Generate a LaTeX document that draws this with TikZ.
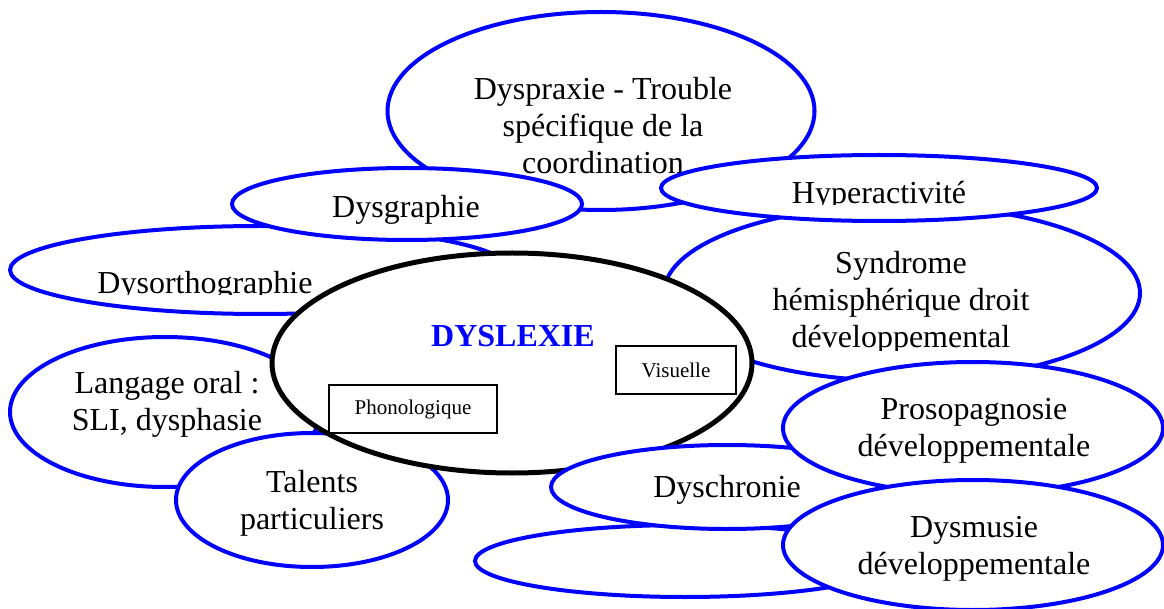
\documentclass[tikz,border=0pt]{standalone}
\usepackage{fontspec}
\setmainfont{Liberation Serif}
\usetikzlibrary{shapes.geometric}
\definecolor{bubbleblue}{RGB}{0,0,255}

\tikzset{
  bubble/.style={ellipse, draw=bubbleblue, line width=4pt, fill=white, inner sep=0pt},
  core/.style={ellipse, draw=black, line width=5pt, fill=white, inner sep=0pt},
  kindbox/.style={draw=black, line width=1.2pt, fill=white, inner sep=0pt,
    minimum height=48pt, font=\fontsize{21}{25}\selectfont},
  word/.style={align=center, inner sep=0pt, font=\fontsize{32}{37}\selectfont}
}

\begin{document}
\begin{tikzpicture}[x=1pt,y=-1pt]
        \useasboundingbox (0,0) rectangle (1164,609);
        % dyspraxie
        \node[bubble, minimum width=427pt, minimum height=198pt] (dyspraxie) at (601,111) {};
        \node[word] (dyspraxietxt) at (603,126) {Dyspraxie - Trouble\\sp\'ecifique de la\\coordination};
        % dysorthographie
        \node[bubble, minimum width=500pt, minimum height=88pt] (dysortho) at (260,270) {};
        \begin{scope}
          \clip (40,240) rectangle (480,295);
          \node[word] (dysorthotxt) at (205,286) {Dysorthographie};
        \end{scope}
        % dysgraphie
        \node[bubble, minimum width=350pt, minimum height=72pt] (dysgraphie) at (407,204) {};
        \node[word] (dysgraphietxt) at (406,210) {Dysgraphie};
        % syndrome
        \node[bubble, minimum width=476pt, minimum height=176pt] (syndrome) at (902,293) {};
        \begin{scope}
          \clip (700,230) rectangle (1100,351);
          \node[word] (syndrometxt) at (901,303) {Syndrome\\h\'emisph\'erique droit\\d\'eveloppemental};
        \end{scope}
        % hyperactivite
        \node[bubble, minimum width=436pt, minimum height=66pt] (hyper) at (879,188) {};
        \begin{scope}
          \clip (700,165) rectangle (1060,205);
          \node[word] (hypertxt) at (879,196) {Hyperactivit\'e};
        \end{scope}
        % langage oral
        \node[bubble, minimum width=310pt, minimum height=150pt] (langage) at (165,412) {};
        \node[word] (langagetxt) at (167,404) {Langage oral :\\SLI, dysphasie};
        % talents
        \node[bubble, minimum width=272pt, minimum height=134pt] (talents) at (312,500) {};
        \node[word] (talentstxt) at (312,503) {Talents\\particuliers};
        % dyslexie
        \node[core, minimum width=480pt, minimum height=220pt] (dyslexie) at (512,363) {};
        \node[word, font=\fontsize{32}{37}\selectfont\bfseries, text=bubbleblue] (dyslexietxt) at (513,336) {DYSLEXIE};
        \node[kindbox, minimum width=168pt] (phono) at (413,409) {Phonologique};
        \node[kindbox, minimum width=120pt] (visuelle) at (676,370) {Visuelle};
        % empty one
        \node[bubble, minimum width=420pt, minimum height=72pt] (vide) at (685,561) {};
        % dyschronie
        \node[bubble, minimum width=352pt, minimum height=84pt] (dyschronie) at (727,487) {};
        \node[word] (dyschronietxt) at (727,490) {Dyschronie};
        % prosopagnosie
        \node[bubble, minimum width=380pt, minimum height=132pt] (prosop) at (973,428) {};
        \node[word] (prosoptxt) at (974,431) {Prosopagnosie\\d\'eveloppementale};
        % dysmusie
        \node[bubble, minimum width=380pt, minimum height=130pt] (dysmusie) at (973,545) {};
        \node[word] (dysmusietxt) at (974,549) {Dysmusie\\d\'eveloppementale};
\end{tikzpicture}
\end{document}
